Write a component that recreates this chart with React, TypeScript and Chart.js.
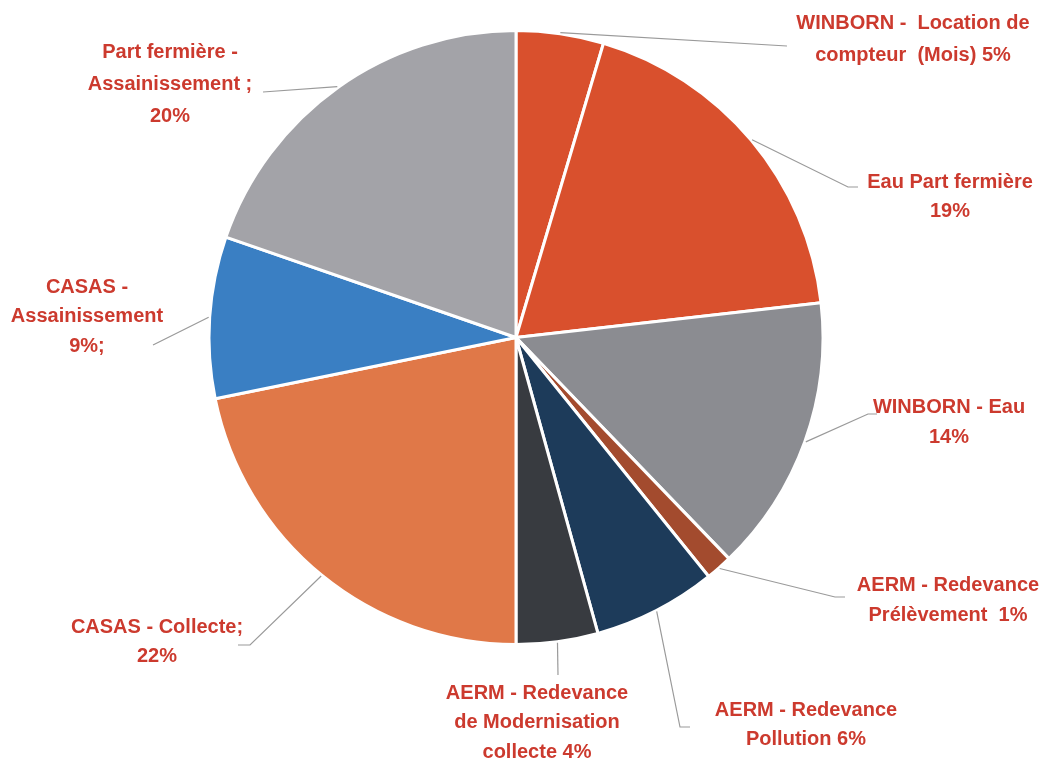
import React, { useEffect, useRef } from "react";
import { Chart, registerables } from "chart.js";

Chart.register(...registerables);

// ---- data ----
const categories = [
  "WINBORN - Location de compteur (Mois)",
  "Eau Part fermière",
  "WINBORN - Eau",
  "AERM - Redevance Prélèvement",
  "AERM - Redevance Pollution",
  "AERM - Redevance de Modernisation collecte",
  "CASAS - Collecte",
  "CASAS - Assainissement",
  "Part fermière - Assainissement",
];
const values = [4.6, 18.6, 14.6, 1.4, 6.5, 4.3, 21.8, 8.5, 19.7];
const labelLines = [
  ["WINBORN -  Location de", "compteur  (Mois) 5%"],
  ["Eau Part fermière", "19%"],
  ["WINBORN - Eau", "14%"],
  ["AERM - Redevance", "Prélèvement  1%"],
  ["AERM - Redevance", "Pollution 6%"],
  ["AERM - Redevance", "de Modernisation", "collecte 4%"],
  ["CASAS - Collecte;", "22%"],
  ["CASAS -", "Assainissement", "9%;"],
  ["Part fermière -", "Assainissement ;", "20%"],
];
const colors = [
  "#d9502d",
  "#d9502d",
  "#8b8c91",
  "#a34b2e",
  "#1d3b5a",
  "#383b40",
  "#e07848",
  "#3a7fc3",
  "#a3a3a8",
];

// ---- layout (label placement, pixels) ----
const labelPos = [
  { x: 913, y: 23, lh: 32 },
  { x: 950, y: 182, lh: 29 },
  { x: 949, y: 407, lh: 30 },
  { x: 948, y: 585, lh: 30 },
  { x: 806, y: 710, lh: 29 },
  { x: 537, y: 693, lh: 29.5 },
  { x: 157, y: 627, lh: 29 },
  { x: 87, y: 287, lh: 29.5 },
  { x: 170, y: 52, lh: 32 },
];
const leaderPts: number[][][] = [
  [[787, 46]],
  [[848, 187], [858, 187]],
  [[868, 414], [877, 414]],
  [[835, 597], [845, 597]],
  [[680, 727], [690, 727]],
  [[558, 675]],
  [[250, 645], [238, 645]],
  [[153, 345]],
  [[263, 92]],
];

const labelPlugin = {
  id: "outLabels",
  afterDatasetsDraw(chart: any) {
    const ctx = chart.ctx;
    const meta = chart.getDatasetMeta(0);
    ctx.save();
    meta.data.forEach((arc: any, i: number) => {
      const { x, y, startAngle, endAngle, outerRadius } = arc.getProps(
        ["x", "y", "startAngle", "endAngle", "outerRadius"],
        true
      );
      const mid = (startAngle + endAngle) / 2;
      const sx = x + Math.cos(mid) * (outerRadius + 1);
      const sy = y + Math.sin(mid) * (outerRadius + 1);
      ctx.beginPath();
      ctx.moveTo(sx, sy);
      leaderPts[i].forEach((p) => ctx.lineTo(p[0], p[1]));
      ctx.strokeStyle = "#9a9a9a";
      ctx.lineWidth = 1.2;
      ctx.stroke();
      const pos = labelPos[i];
      ctx.fillStyle = "#cc3a2e";
      ctx.font = "bold 20px 'Liberation Sans', Arial, sans-serif";
      ctx.textAlign = "center";
      ctx.textBaseline = "middle";
      labelLines[i].forEach((line, k) => {
        ctx.fillText(line, pos.x, pos.y + k * pos.lh);
      });
    });
    ctx.restore();
  },
};

export default function App() {
  const ref = useRef<HTMLCanvasElement | null>(null);
  useEffect(() => {
    document.body.style.margin = "0";
    const chart = new Chart(ref.current as HTMLCanvasElement, {
      type: "pie",
      data: {
        labels: categories,
        datasets: [
          {
            data: values,
            backgroundColor: colors,
            borderColor: "#ffffff",
            borderWidth: 3,
          },
        ],
      },
      options: {
        animation: false,
        responsive: false,
        layout: { padding: { top: 29, bottom: 119, left: 0, right: 17 } },
        plugins: {
          legend: { display: false },
          tooltip: { enabled: false },
        },
      },
      plugins: [labelPlugin],
    });
    return () => chart.destroy();
  }, []);
  return (
    <div style={{ width: 1049, height: 765, background: "#fff" }}>
      <canvas ref={ref} width={1049} height={765} style={{ display: "block" }} />
    </div>
  );
}
